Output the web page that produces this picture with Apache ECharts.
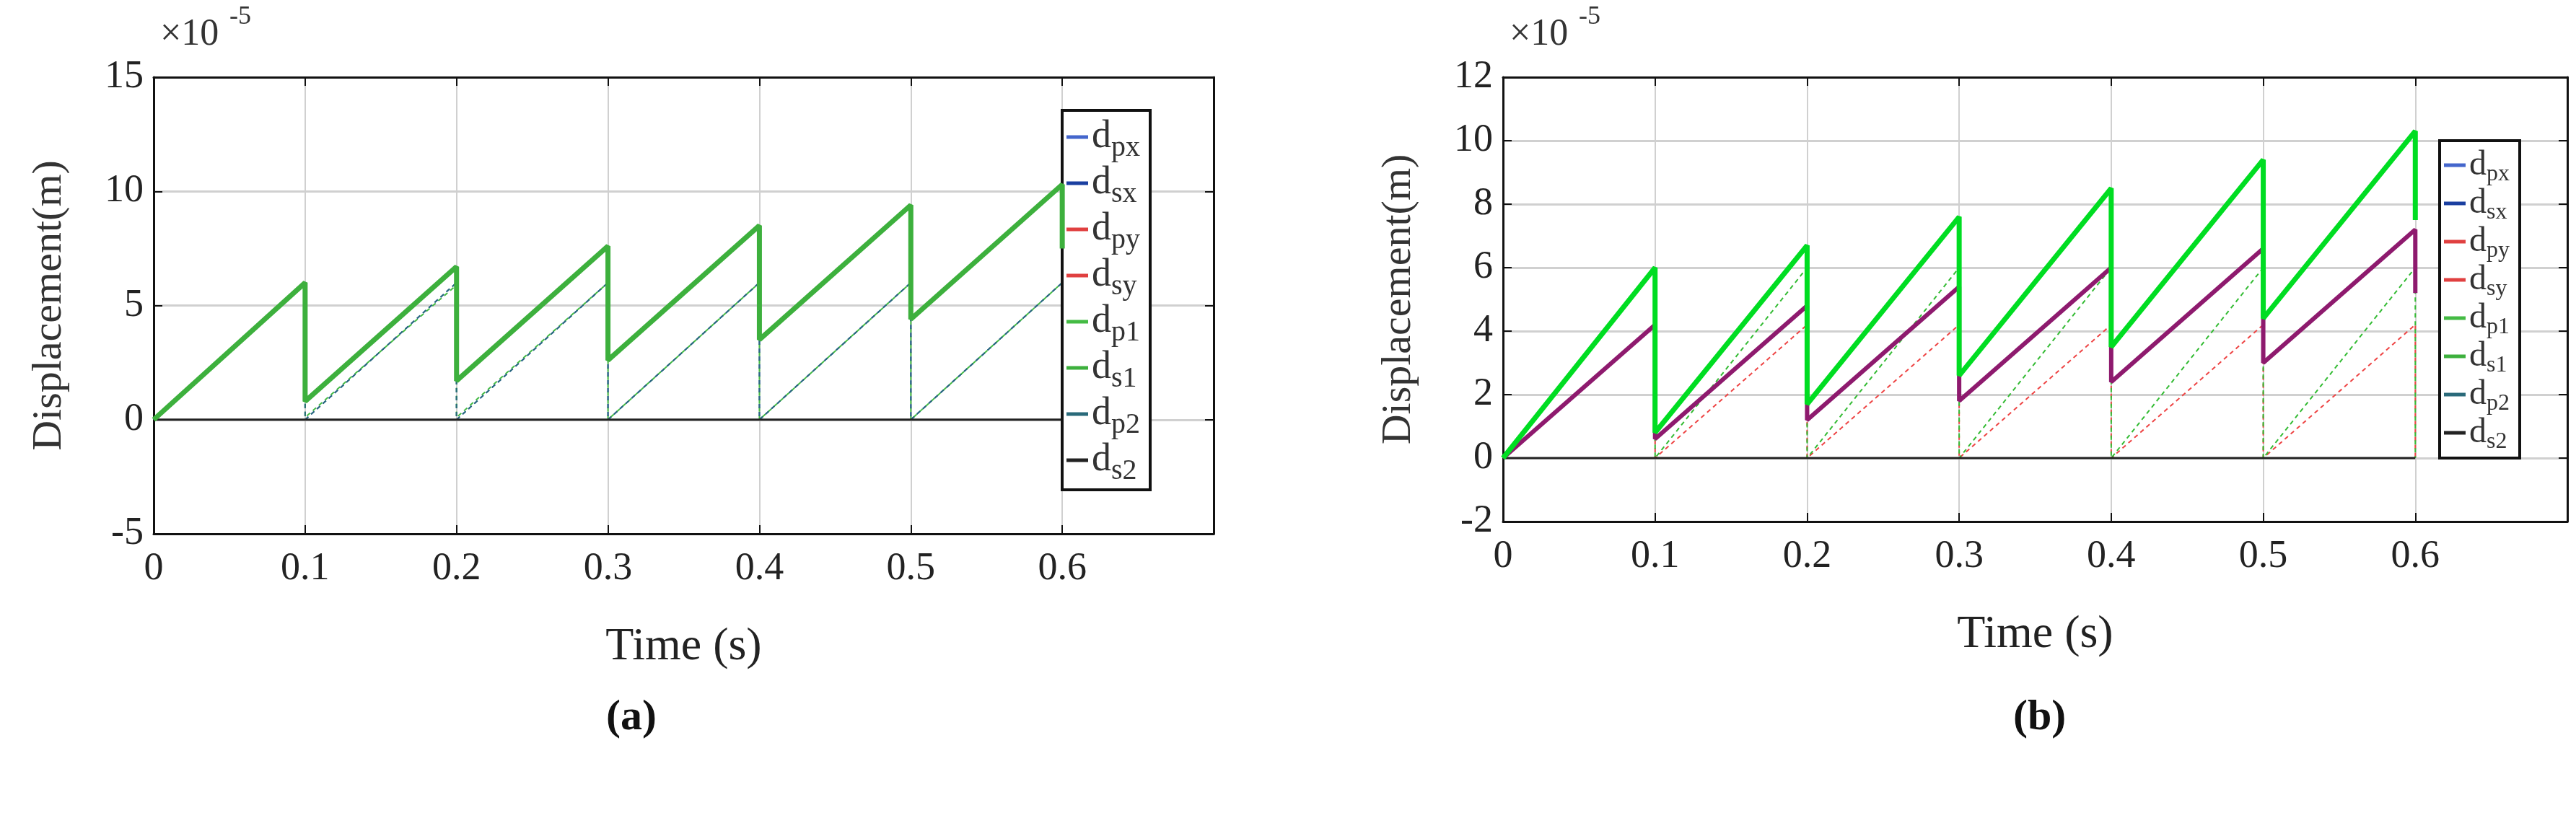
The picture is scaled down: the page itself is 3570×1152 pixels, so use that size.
<!DOCTYPE html>
<html>
<head>
<meta charset="utf-8">
<script src="https://cdn.jsdelivr.net/npm/echarts@6/dist/echarts.min.js"></script>
<style>
html,body{margin:0;padding:0;background:#fff;}
#chart{width:3570px;height:1152px;}
</style>
</head>
<body>
<div id="chart"></div>
<script>
// sawtooth time base (duplicated x where the curve drops)
var tSaw = [0, 0.1, 0.1, 0.2, 0.2, 0.3, 0.3, 0.4, 0.4, 0.5, 0.5, 0.6, 0.6];
var tFlat = [0, 0.6];

// (a)
var a_ds1 = [0, 6.0, 0.8, 6.7, 1.7, 7.6, 2.6, 8.5, 3.5, 9.4, 4.4, 10.3, 7.5];
var a_dp1 = [0, 6.0, 0.1, 5.9, 0.1, 6.0, 0, 6.0, 0, 6.0, 0, 6.0, 0];
var a_dp2 = [0, 6.0, 0, 6.0, 0, 6.0, 0, 6.0, 0, 6.0, 0, 6.0, 0];
var a_ds2 = [0, 0];

// (b)
var b_ds1 = [0, 6.0, 0.8, 6.7, 1.7, 7.6, 2.6, 8.5, 3.5, 9.4, 4.4, 10.3, 7.5];
var b_dsy = [0, 4.2, 0.6, 4.8, 1.2, 5.4, 1.8, 6.0, 2.4, 6.6, 3.0, 7.2, 5.2];
var b_dp1 = [0, 6.0, 0, 6.0, 0, 6.0, 0, 6.0, 0, 6.0, 0, 6.0, 0];
var b_dpy = [0, 4.2, 0, 4.2, 0, 4.2, 0, 4.2, 0, 4.2, 0, 4.2, 0];
var b_ds2 = [0, 0];

var xTicks = [0, 0.1, 0.2, 0.3, 0.4, 0.5, 0.6];
var legendNames = ['px', 'sx', 'py', 'sy', 'p1', 's1', 'p2', 's2'];

function pairs(xs, ys) {
    var out = [];
    for (var i = 0; i < ys.length; i++) out.push([xs[i], ys[i]]);
    return out;
}

var FONT = 'Liberation Serif';
var chart = echarts.init(document.getElementById('chart'));

function axesFor(idx, min, max, interval) {
    var x = [{
        gridIndex: idx, type: 'value', min: 0, max: 0.7, interval: 0.1,
        axisLabel: {
            fontFamily: FONT, fontSize: 54, color: '#222', margin: 22,
            formatter: function (v) { return xTicks.indexOf(Math.round(v * 10) / 10) >= 0 ? String(Math.round(v * 10) / 10) : ''; }
        },
        axisLine: {onZero: false, lineStyle: {color: '#111', width: 3}},
        axisTick: {inside: true, length: 12, lineStyle: {color: '#111', width: 2}},
        splitLine: {show: true, lineStyle: {color: '#d0d0d0', width: 2}},
        name: 'Time (s)', nameLocation: 'middle', nameGap: 125,
        nameTextStyle: {fontFamily: FONT, fontSize: 64, color: '#222'}
    }, {
        gridIndex: idx, type: 'value', position: 'top', min: 0, max: 0.7, interval: 0.1,
        axisLabel: {show: false}, splitLine: {show: false},
        axisLine: {onZero: false, lineStyle: {color: '#111', width: 3}},
        axisTick: {inside: true, length: 12, lineStyle: {color: '#111', width: 2}}
    }];
    var y = [{
        gridIndex: idx, type: 'value', min: min, max: max, interval: interval,
        axisLabel: {fontFamily: FONT, fontSize: 54, color: '#222', margin: 14},
        axisLine: {onZero: false, lineStyle: {color: '#111', width: 3}},
        axisTick: {inside: true, length: 12, lineStyle: {color: '#111', width: 2}},
        splitLine: {show: true, lineStyle: {color: '#d0d0d0', width: 3}},
        name: 'Displacement(m)', nameLocation: 'middle', nameGap: 115,
        nameTextStyle: {fontFamily: FONT, fontSize: 58, color: '#333'}
    }, {
        gridIndex: idx, type: 'value', position: 'right', min: min, max: max, interval: interval,
        axisLabel: {show: false}, splitLine: {show: false},
        axisLine: {onZero: false, lineStyle: {color: '#111', width: 3}},
        axisTick: {inside: true, length: 12, lineStyle: {color: '#111', width: 2}}
    }];
    return {x: x, y: y};
}

var axA = axesFor(0, -5, 15, 5);
var axB = axesFor(1, -2, 12, 2);

function line(name, xi, yi, data, color, width, dashed, z) {
    return {
        name: name, type: 'line', xAxisIndex: xi, yAxisIndex: yi, data: data,
        showSymbol: false, symbol: 'none', animation: false, z: z || 2,
        lineStyle: {color: color, width: width, type: dashed ? [6, 5] : 'solid'},
        itemStyle: {color: color}
    };
}

var series = [
    // (a)
    line('px', 0, 0, pairs(tSaw, a_dp2), '#4466cc', 2, true),
    line('sx', 0, 0, [], '#1a3fa0', 5, false),
    line('py', 0, 0, [], '#e04040', 2, true),
    line('sy', 0, 0, [], '#e04040', 3, false),
    line('p1', 0, 0, pairs(tSaw, a_dp1), '#44bb44', 2, true),
    line('s1', 0, 0, pairs(tSaw, a_ds1), '#3db03d', 7, false, 5),
    line('p2', 0, 0, pairs(tSaw, a_dp2), '#2a6a7a', 2, true),
    line('s2', 0, 0, pairs(tFlat, a_ds2), '#222222', 3, false),
    // (b)
    line('px', 2, 2, [], '#6677dd', 2, true),
    line('sx', 2, 2, [], '#1a2fb0', 5, false),
    line('py', 2, 2, pairs(tSaw, b_dpy), '#ee4444', 2, true),
    line('sy', 2, 2, pairs(tSaw, b_dsy), '#8e1a6e', 6, false, 4),
    line('p1', 2, 2, pairs(tSaw, b_dp1), '#33bb33', 2, true),
    line('s1', 2, 2, pairs(tSaw, b_ds1), '#00dd22', 7, false, 5),
    line('p2', 2, 2, [], '#335577', 2, true),
    line('s2', 2, 2, pairs(tFlat, b_ds2), '#222222', 3, false)
];

function legendFmt(n) { return '{d|d}{s|' + n + '}'; }
function legendAt(left, top, gap, big, small) {
    return {
        data: legendNames.map(function (n) { return {name: n, icon: 'rect'}; }),
        orient: 'vertical', left: left, top: top,
        itemWidth: 30, itemHeight: 5, itemGap: gap,
        formatter: legendFmt,
        textStyle: {
            rich: {
                d: {fontFamily: FONT, fontSize: big, color: '#333'},
                s: {fontFamily: FONT, fontSize: small, color: '#333', verticalAlign: 'bottom', padding: [Math.round(big * 0.55), 0, 0, 0]}
            }
        },
        borderColor: '#111', borderWidth: 4, backgroundColor: '#fff',
        padding: [10, 14, 6, 6], selectedMode: false
    };
}

chart.setOption({
    backgroundColor: '#fff',
    grid: [
        {left: 213, top: 107, width: 1469, height: 633},
        {left: 2083, top: 107, width: 1475, height: 616}
    ],
    xAxis: axA.x.concat(axB.x.map(function (a) { a.gridIndex = 1; return a; })),
    yAxis: axA.y.concat(axB.y.map(function (a) { a.gridIndex = 1; return a; })),
    legend: [legendAt(1472, 153, 2, 54, 40), legendAt(3381, 195, 0, 48, 32)],
    graphic: [
        {type: 'text', left: 222, top: 22, style: {text: '×10', font: '52px "Liberation Serif"', fill: '#333'}},
        {type: 'text', left: 318, top: 6, style: {text: '-5', font: '36px "Liberation Serif"', fill: '#333'}},
        {type: 'text', left: 2092, top: 22, style: {text: '×10', font: '52px "Liberation Serif"', fill: '#333'}},
        {type: 'text', left: 2188, top: 6, style: {text: '-5', font: '36px "Liberation Serif"', fill: '#333'}},
        {type: 'text', left: 840, top: 965, style: {text: '(a)', font: 'bold 60px "Liberation Serif"', fill: '#111'}},
        {type: 'text', left: 2790, top: 965, style: {text: '(b)', font: 'bold 60px "Liberation Serif"', fill: '#111'}}
    ],
    series: series
});
</script>
</body>
</html>
